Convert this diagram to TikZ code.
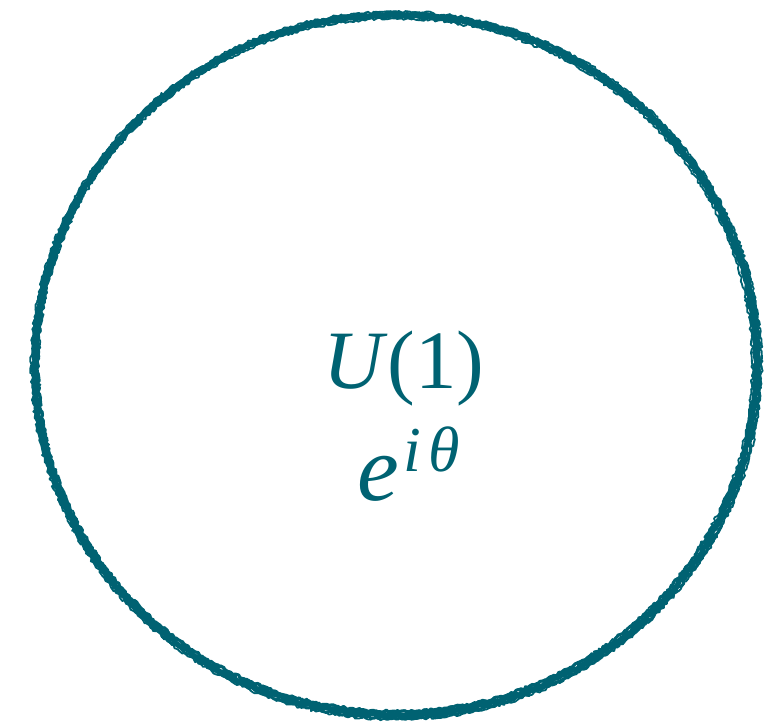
\documentclass[tikz,border=0pt]{standalone}
\usepackage{fontspec}
\setmainfont{Liberation Serif}
\usetikzlibrary{decorations.pathmorphing}
\definecolor{teal1}{HTML}{006272}
\begin{document}
\begin{tikzpicture}[x=1pt,y=-1pt,
  rough/.style={draw=teal1, line width=#1, line cap=round, line join=round,
    decorate, decoration={random steps, segment length=2.5pt, amplitude=1.4pt}},
  rough/.default=4pt,
  lbl/.style={text=teal1, inner sep=0pt, font=\fontsize{83}{100}\selectfont}]
\useasboundingbox (0,0) rectangle (770,721);
\pgfmathsetseed{4}
\draw[rough=5.5pt] (396,365) ellipse [x radius=361, y radius=350];
\draw[rough=3pt] (396,364) ellipse [x radius=358.5, y radius=347.5];
\draw[rough=3pt] (396.5,365.5) ellipse [x radius=363.5, y radius=352.5];
\draw[rough=1.8pt] (395.5,365) ellipse [x radius=357, y radius=346.5];
\draw[rough=1.8pt] (396.5,365.5) ellipse [x radius=365, y radius=354];
\node[lbl, anchor=base] (u1) at (404,388) {\textit{U}(1)};
\node[lbl, anchor=base west, font=\fontsize{94}{100}\selectfont] (eit) at (357,500)
  {\textit{e}\kern5pt\raisebox{29pt}{\fontsize{64}{68}\selectfont\textit{i}\kern7pt\textit{θ}}};
\end{tikzpicture}
\end{document}
